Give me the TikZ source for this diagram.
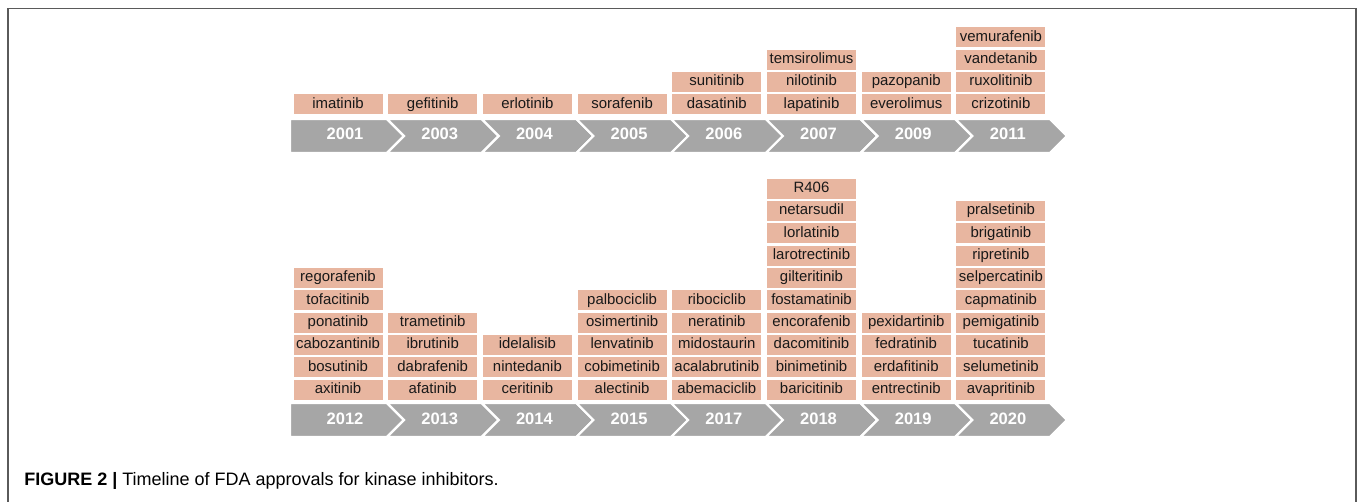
\documentclass[tikz,border=0pt]{standalone}
\usepackage{fontspec}
\setmainfont{Liberation Sans}
\definecolor{drugfill}{RGB}{232,182,160}
\definecolor{barfill}{RGB}{166,166,166}
\definecolor{framecol}{RGB}{90,90,90}
\tikzset{
  drug/.style={fill=drugfill, minimum width=66.75pt, minimum height=15pt, inner sep=0pt, text height=8pt, text depth=2.2pt, font=\fontsize{11.2}{11.2}\selectfont, text=black!90},
  year/.style={font=\fontsize{12.4}{12.4}\selectfont\bfseries, text=white, inner sep=0pt, text height=9pt, text depth=0pt},
  yearbar/.style={fill=barfill, draw=white, line width=1.65pt, line join=miter}
}
\begin{document}
\begin{tikzpicture}[x=0.75pt, y=-0.75pt]
  \useasboundingbox (0,0) rectangle (1358,502);
  % frame
  \draw[framecol, line width=1.1pt] (8,502) -- (8,8.5) -- (1356,8.5) -- (1356,502);
  % first row
  \foreach \yr/\drugs [count=\i from 0] in {2001/{imatinib}, 2003/{gefitinib}, 2004/{erlotinib}, 2005/{sorafenib}, 2006/{dasatinib,sunitinib}, 2007/{lapatinib,nilotinib,temsirolimus}, 2009/{everolimus,pazopanib}, 2011/{crizotinib,ruxolitinib,vandetanib,vemurafenib}}{
    \pgfmathsetmacro\cx{338+94.7*\i}
    \pgfmathsetmacro\nd{\i>0 ? 17 : 0}
    \pgfmathsetmacro\lx{\i>0 ? \cx-45.7 : \cx-48}
    \draw[yearbar] (\lx,119) -- (\cx+49,119) -- (\cx+66,136) -- (\cx+49,153) -- (\lx,153) -- (\lx+\nd,136) -- cycle;
    \node[year] (y\yr) at (\cx+7,134) {\yr};
    \foreach \d [count=\j from 0] in \drugs
      \node[drug] (d\yr-\j) at (\cx,104.2-22.33*\j) {\d};
  }
  % second row
  \foreach \yr/\drugs [count=\i from 0] in {2012/{axitinib,bosutinib,cabozantinib,ponatinib,tofacitinib,regorafenib}, 2013/{afatinib,dabrafenib,ibrutinib,trametinib}, 2014/{ceritinib,nintedanib,idelalisib}, 2015/{alectinib,cobimetinib,lenvatinib,osimertinib,palbociclib}, 2017/{abemaciclib,acalabrutinib,midostaurin,neratinib,ribociclib}, 2018/{baricitinib,binimetinib,dacomitinib,encorafenib,fostamatinib,gilteritinib,larotrectinib,lorlatinib,netarsudil,R406}, 2019/{entrectinib,erdafitinib,fedratinib,pexidartinib}, 2020/{avapritinib,selumetinib,tucatinib,pemigatinib,capmatinib,selpercatinib,ripretinib,brigatinib,pralsetinib}}{
    \pgfmathsetmacro\cx{338+94.7*\i}
    \pgfmathsetmacro\nd{\i>0 ? 17 : 0}
    \pgfmathsetmacro\lx{\i>0 ? \cx-45.7 : \cx-48}
    \draw[yearbar] (\lx,403) -- (\cx+49,403) -- (\cx+66,420) -- (\cx+49,437) -- (\lx,437) -- (\lx+\nd,420) -- cycle;
    \node[year] (y\yr) at (\cx+7,418.5) {\yr};
    \foreach \d [count=\j from 0] in \drugs
      \node[drug] (d\yr-\j) at (\cx,389.5-22.33*\j) {\d};
  }
  % caption
  \node[anchor=base west, inner sep=0pt, font=\fontsize{13.5}{13.5}\selectfont] (caption) at (24,485) {\textbf{FIGURE 2 |} Timeline of FDA approvals for kinase inhibitors.};
\end{tikzpicture}
\end{document}
